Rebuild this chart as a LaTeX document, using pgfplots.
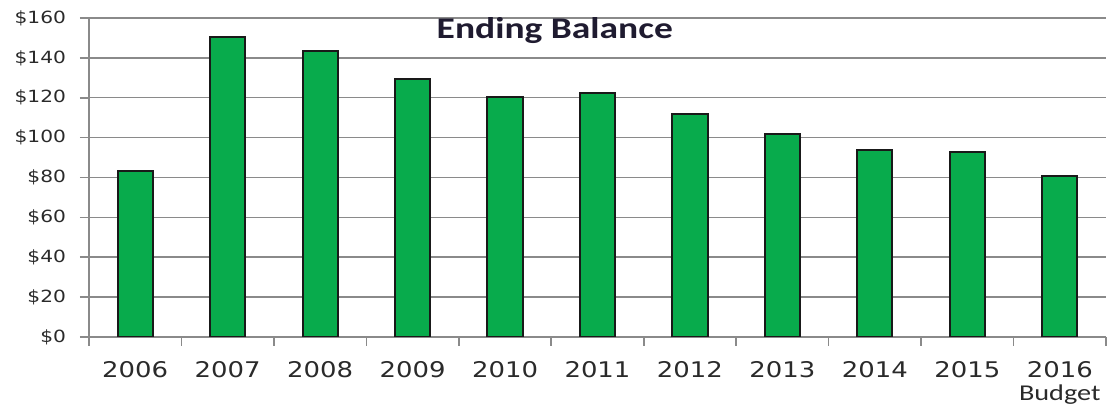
\documentclass[border=0pt]{standalone}
\usepackage{fontspec}
\setmainfont{DejaVu Sans}[FakeStretch=1.2]
\newfontfamily\titlefont{Carlito}[FakeStretch=1.25]
\usepackage{pgfplots}
\pgfplotsset{compat=1.18}
\definecolor{barGreen}{HTML}{08AB4C}
\definecolor{gridgray}{HTML}{8A8A8A}
\definecolor{labelgray}{HTML}{2A2A2A}
\definecolor{titlecolor}{HTML}{1F1B30}
\begin{document}
\begin{tikzpicture}
\useasboundingbox (-44.5pt,-34.5pt) rectangle (510pt,168.5pt);
\begin{axis}[
  scale only axis, width=508.5pt, height=159.5pt,
  at={(0,0)}, anchor=south west,
  xmin=-0.5, xmax=10.5, ymin=0, ymax=160,
  ybar, bar width=0.38,
  axis x line*=bottom, axis y line*=left,
  axis line style={-, draw=gridgray, line width=0.8pt},
  tick style={draw=gridgray, line width=0.8pt},
  tick align=outside, major tick length=4.5pt,
  xtick={-0.5,0.5,1.5,2.5,3.5,4.5,5.5,6.5,7.5,8.5,9.5,10.5},
  x tick label as interval,
  xticklabels={2006,2007,2008,2009,2010,2011,2012,2013,2014,2015,{2016\\[-1.5pt]{\titlefont\fontsize{11.3}{13}\selectfont Budget}}},
  xticklabel style={font=\fontsize{10.8}{13}\selectfont, text=labelgray, align=center, yshift=-4pt},
  ytick={0,20,...,160},
  yticklabels={\$0,\$20,\$40,\$60,\$80,\$100,\$120,\$140,\$160},
  yticklabel style={font=\fontsize{8.4}{10}\selectfont, text=labelgray, xshift=-3.5pt},
  ymajorgrids, grid style={draw=gridgray, line width=0.75pt},
]
\addplot[fill=barGreen, draw=black!90, line width=1pt] coordinates {
  (0,83.3) (1,150.3) (2,143.6) (3,129.4) (4,120.4) (5,122.5)
  (6,111.7) (7,101.8) (8,93.8) (9,92.9) (10,80.7)
};
\node[font=\titlefont\bfseries\fontsize{15}{17}\selectfont, text=titlecolor, anchor=base]
  at (axis description cs:0.458,0.937) {Ending Balance};
\end{axis}
\end{tikzpicture}
\end{document}
